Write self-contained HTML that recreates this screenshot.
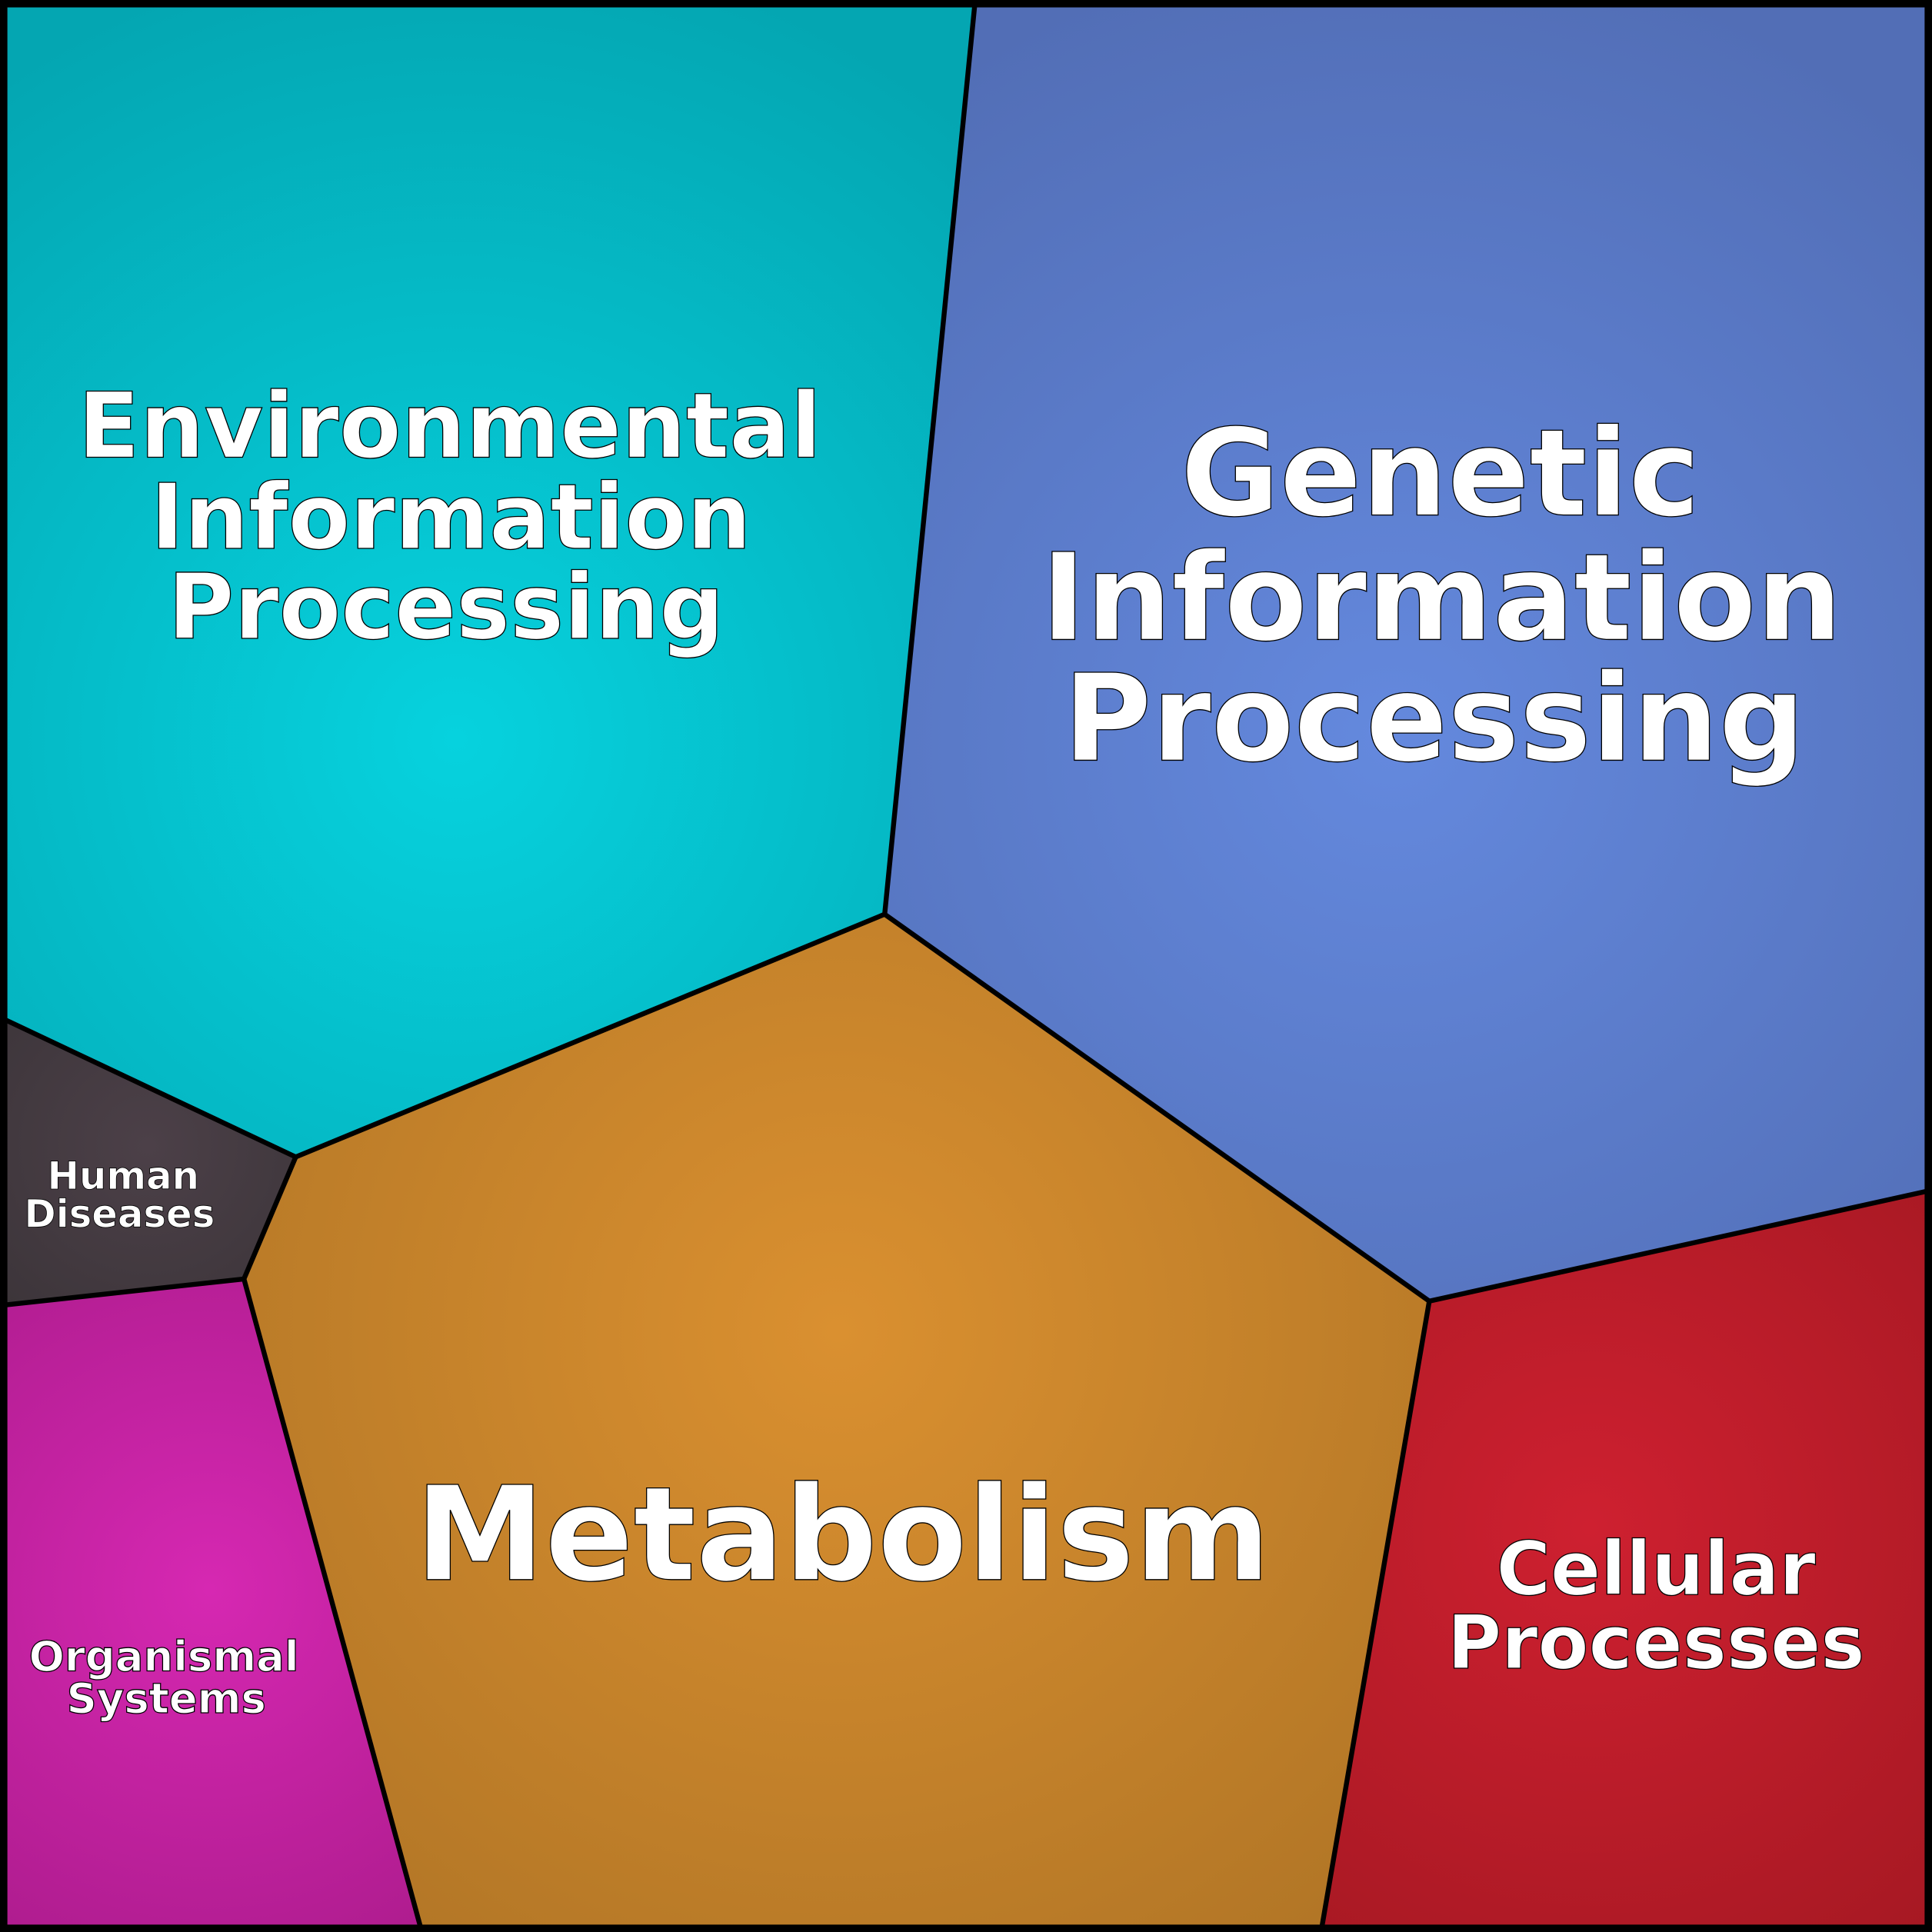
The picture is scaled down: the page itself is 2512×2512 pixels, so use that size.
<!DOCTYPE html>
<html><head><meta charset="utf-8"><style>html,body{margin:0;padding:0;background:#000}svg{display:block}</style></head><body>
<svg width="2512" height="2512" viewBox="0 0 1568 1568" xmlns="http://www.w3.org/2000/svg">
<defs>
<radialGradient id="env" cx="370" cy="600" r="650" gradientUnits="userSpaceOnUse"><stop offset="0" stop-color="#06d2de"/><stop offset="1" stop-color="#04a6b2"/></radialGradient>
<radialGradient id="gen" cx="1130" cy="600" r="650" gradientUnits="userSpaceOnUse"><stop offset="0" stop-color="#6489de"/><stop offset="1" stop-color="#526eb6"/></radialGradient>
<radialGradient id="met" cx="680" cy="1080" r="620" gradientUnits="userSpaceOnUse"><stop offset="0" stop-color="#da9030"/><stop offset="1" stop-color="#b27626"/></radialGradient>
<radialGradient id="cel" cx="1290" cy="1240" r="450" gradientUnits="userSpaceOnUse"><stop offset="0" stop-color="#ce2030"/><stop offset="1" stop-color="#a41822"/></radialGradient>
<radialGradient id="org" cx="170" cy="1290" r="330" gradientUnits="userSpaceOnUse"><stop offset="0" stop-color="#d628b2"/><stop offset="1" stop-color="#ae1c8e"/></radialGradient>
<radialGradient id="hum" cx="120" cy="930" r="220" gradientUnits="userSpaceOnUse"><stop offset="0" stop-color="#4c4048"/><stop offset="1" stop-color="#383236"/></radialGradient>
</defs>
<rect width="1568" height="1568" fill="#000"/>
<polygon points="5,5 791,5 718,742 240,939 5,828" fill="url(#env)"/>
<polygon points="791,5 1563,5 1563,967 1160,1056 718,742" fill="url(#gen)"/>
<polygon points="718,742 1160,1056 1073,1563 341,1563 198,1038 240,939" fill="url(#met)"/>
<polygon points="1160,1056 1563,967 1563,1563 1073,1563" fill="url(#cel)"/>
<polygon points="5,1059 198,1038 341,1563 5,1563" fill="url(#org)"/>
<polygon points="5,828 240,939 198,1038 5,1059" fill="url(#hum)"/>
<g fill="none" stroke="#000" stroke-width="4" stroke-linejoin="round">
<polyline points="791,5 718,742 240,939 5,828"/>
<polyline points="718,742 1160,1056 1563,967"/>
<polyline points="1160,1056 1073,1563"/>
<polyline points="240,939 198,1038 5,1059"/>
<polyline points="198,1038 341,1563"/>
</g>
<rect x="3" y="3" width="1562" height="1562" fill="none" stroke="#000" stroke-width="6"/>
<g font-family="'DejaVu Sans','Liberation Sans',sans-serif" font-weight="bold" fill="#fff" stroke="#000" stroke-width="0.8" text-anchor="middle">
<g font-size="73.5"><text x="365" y="371">Environmental</text><text x="366" y="445">Information</text><text x="362" y="518">Processing</text></g>
<g font-size="98"><text x="1169" y="418">Genetic</text><text x="1170" y="519">Information</text><text x="1164" y="617">Processing</text></g>
<text x="684" y="1282" font-size="106">Metabolism</text>
<g font-size="60"><text x="1344" y="1294">Cellular</text><text x="1344" y="1354">Processes</text></g>
<g font-size="34"><text x="133" y="1356">Organismal</text><text x="135" y="1390">Systems</text></g>
<g font-size="31" stroke-width="0.5"><text x="100" y="965">Human</text><text x="97" y="996">Diseases</text></g>
</g>
</svg>
</body></html>
